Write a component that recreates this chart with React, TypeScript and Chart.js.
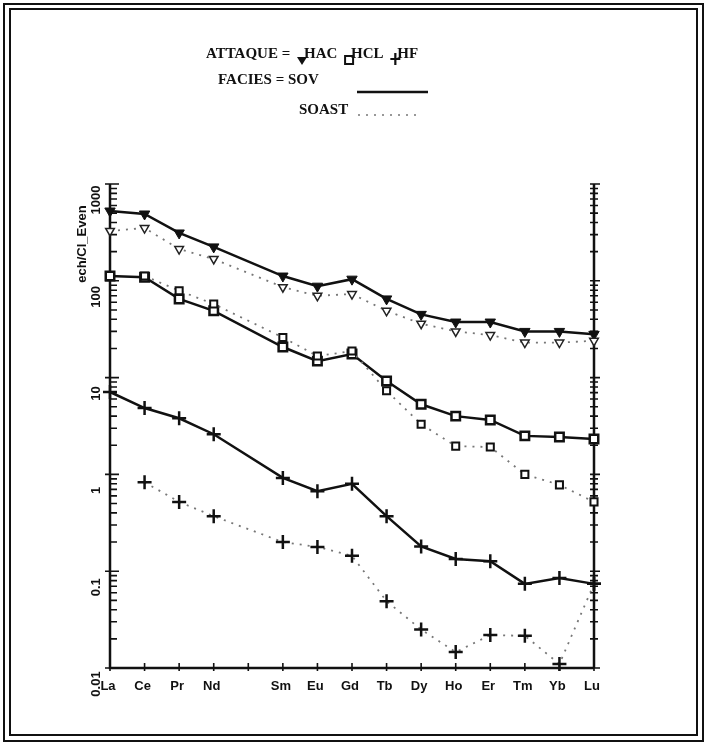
import React, { useEffect, useRef } from "react";
import { Chart, registerables } from "chart.js";

Chart.register(...registerables);

// ---------- data ----------
const elements = ["La", "Ce", "Pr", "Nd", "", "Sm", "Eu", "Gd", "Tb", "Dy", "Ho", "Er", "Tm", "Yb", "Lu"];
const atomicNumbers = [57, 58, 59, 60, 61, 62, 63, 64, 65, 66, 67, 68, 69, 70, 71];
const yTickValues = [0.01, 0.1, 1, 10, 100, 1000];
const yTickLabels = ["0.01", "0.1", "1", "10", "100", "1000"];
const yAxisTitle = "ech/Cl_Even";

// FACIES = SOV (solid)
const sovHAC = [526, 490, 312, 224, null, 112, 88, 104, 65, 45, 37.5, 37.5, 30, 30, 28];
const sovHCL = [112, 109, 65, 49, null, 20.7, 14.8, 17.5, 9.2, 5.3, 4.0, 3.65, 2.5, 2.43, 2.32];
const sovHF = [7.1, 4.85, 3.8, 2.6, null, 0.92, 0.67, 0.8, 0.37, 0.18, 0.134, 0.127, 0.074, 0.085, 0.074];
// FACIES = SOAST (dotted)
const soastHAC = [327, 351, 213, 168, null, 86, 70, 73, 49, 36, 30, 27.5, 23, 23, 24];
const soastHCL = [null, 112, 79, 57.5, null, 26, 16.7, 18.8, 7.3, 3.3, 1.96, 1.92, 1.0, 0.78, 0.52];
const soastHF = [null, 0.83, 0.52, 0.37, null, 0.2, 0.178, 0.144, 0.049, 0.025, 0.0146, 0.0219, 0.0215, 0.011, 0.074];

const legendTitle = "ATTAQUE = ";
const legendAttacks = ["HAC", "HCL", "HF"];
const legendFacies = ["FACIES = SOV", "SOAST"];

// ---------- helpers ----------
const toPoints = (vals: (number | null)[]) =>
  atomicNumbers.map((z, i) => ({ x: z, y: vals[i] }));

const SERIF = "bold 15px 'Liberation Serif', 'DejaVu Serif', serif";
const SANS = "bold 13px 'Liberation Sans', Arial, sans-serif";

function drawTri(ctx: CanvasRenderingContext2D, x: number, y: number, r: number) {
  ctx.beginPath();
  ctx.moveTo(x - r, y - r * 0.6);
  ctx.lineTo(x + r, y - r * 0.6);
  ctx.lineTo(x, y + r);
  ctx.closePath();
  ctx.fill();
}

const framePlugin = {
  id: "framePlugin",
  beforeDatasetsDraw(chart: any) {
    const ctx: CanvasRenderingContext2D = chart.ctx;
    const xs = chart.scales.x;
    const ys = chart.scales.y;
    const { left, right, top, bottom } = chart.chartArea;
    ctx.save();
    ctx.strokeStyle = "#111";
    ctx.lineWidth = 2.5;
    // axis lines
    ctx.beginPath();
    ctx.moveTo(left, top);
    ctx.lineTo(left, bottom);
    ctx.lineTo(right, bottom);
    ctx.moveTo(right, top);
    ctx.lineTo(right, bottom);
    ctx.stroke();
    // log ticks on y axes
    ctx.lineWidth = 1.6;
    for (let e = -2; e <= 3; e++) {
      for (let m = 1; m <= 9; m++) {
        const v = m * Math.pow(10, e);
        if (v > 1000.0001 || v < 0.00999) continue;
        const py = ys.getPixelForValue(v);
        const major = m === 1;
        ctx.beginPath();
        ctx.moveTo(left - (major ? 5 : 0), py);
        ctx.lineTo(left + (major ? 9 : 7), py);
        ctx.moveTo(right - 4, py);
        ctx.lineTo(right + (major ? 6 : 4), py);
        ctx.stroke();
      }
    }
    // x ticks
    atomicNumbers.forEach((z) => {
      const px = xs.getPixelForValue(z);
      ctx.beginPath();
      ctx.moveTo(px, bottom - 5);
      ctx.lineTo(px, bottom + 3);
      ctx.stroke();
    });
    ctx.restore();
  },
  afterDraw(chart: any) {
    const ctx: CanvasRenderingContext2D = chart.ctx;
    const xs = chart.scales.x;
    const ys = chart.scales.y;
    const { left, bottom } = chart.chartArea;
    ctx.save();
    ctx.fillStyle = "#111";
    ctx.strokeStyle = "#111";

    // double frame
    ctx.lineWidth = 2;
    ctx.strokeRect(4, 4, 699, 737);
    ctx.strokeRect(10, 9, 687, 726);

    // x labels
    ctx.font = SANS;
    ctx.textAlign = "center";
    ctx.textBaseline = "middle";
    atomicNumbers.forEach((z, i) => {
      if (!elements[i]) return;
      ctx.fillText(elements[i], xs.getPixelForValue(z) - 2, bottom + 18);
    });

    // y labels (rotated)
    yTickValues.forEach((v, i) => {
      const py = ys.getPixelForValue(v);
      ctx.save();
      ctx.translate(left - 14, py + 16);
      ctx.rotate(-Math.PI / 2);
      ctx.fillText(yTickLabels[i], 0, 0);
      ctx.restore();
    });
    // y title
    ctx.save();
    ctx.translate(left - 28, 244);
    ctx.rotate(-Math.PI / 2);
    ctx.fillText(yAxisTitle, 0, 0);
    ctx.restore();

    // legend block
    ctx.font = SERIF;
    ctx.textAlign = "left";
    ctx.textBaseline = "middle";
    let x = 206;
    const y1 = 54;
    ctx.fillText(legendTitle, x, y1);
    x += ctx.measureText(legendTitle).width + 4;
    // HAC
    drawTri(ctx, x + 4, y1 + 6, 5);
    ctx.fillText(legendAttacks[0], x + 6, y1);
    x += 6 + ctx.measureText(legendAttacks[0] + " ").width + 4;
    // HCL
    ctx.lineWidth = 2;
    ctx.fillStyle = "#fff";
    ctx.fillRect(x, y1 + 2, 8, 8);
    ctx.strokeRect(x, y1 + 2, 8, 8);
    ctx.fillStyle = "#111";
    ctx.fillText(legendAttacks[1], x + 6, y1);
    x += 6 + ctx.measureText(legendAttacks[1] + " ").width + 4;
    // HF
    ctx.lineWidth = 2.2;
    ctx.beginPath();
    ctx.moveTo(x + 4, y1 - 1);
    ctx.lineTo(x + 4, y1 + 11);
    ctx.moveTo(x - 1, y1 + 5);
    ctx.lineTo(x + 9, y1 + 5);
    ctx.stroke();
    ctx.fillText(legendAttacks[2], x + 6, y1);

    const y2 = 80;
    ctx.fillText(legendFacies[0], 218, y2);
    ctx.lineWidth = 2.5;
    ctx.beginPath();
    ctx.moveTo(357, y2 + 12);
    ctx.lineTo(428, y2 + 12);
    ctx.stroke();

    const y3 = 110;
    ctx.fillText(legendFacies[1], 299, y3);
    ctx.lineWidth = 1.6;
    ctx.strokeStyle = "#777";
    ctx.setLineDash([2, 6]);
    ctx.beginPath();
    ctx.moveTo(358, y3 + 5);
    ctx.lineTo(418, y3 + 5);
    ctx.stroke();
    ctx.setLineDash([]);
    ctx.restore();
  },
};

export default function App() {
  const ref = useRef<HTMLCanvasElement | null>(null);

  useEffect(() => {
    if (!ref.current) return;
    const solid = { borderColor: "#111", borderWidth: 2.5, spanGaps: true, clip: false as any };
    const dotted = { borderColor: "#777", borderWidth: 1.8, borderDash: [2, 6], spanGaps: true, clip: false as any };
    const chart = new Chart(ref.current, {
      type: "line",
      data: {
        datasets: [
          {
            label: "SOAST HAC", data: toPoints(soastHAC) as any, ...dotted,
            pointStyle: "triangle", rotation: 180, pointRadius: 5,
            pointBackgroundColor: "#fff", pointBorderColor: "#222", pointBorderWidth: 1.5,
          },
          {
            label: "SOAST HCL", data: toPoints(soastHCL) as any, ...dotted,
            pointStyle: "rect", pointRadius: 5,
            pointBackgroundColor: "#fff", pointBorderColor: "#111", pointBorderWidth: 2,
          },
          {
            label: "SOAST HF", data: toPoints(soastHF) as any, ...dotted,
            pointStyle: "cross", pointRadius: 7,
            pointBorderColor: "#111", pointBorderWidth: 2.5,
          },
          {
            label: "SOV HAC", data: toPoints(sovHAC) as any, ...solid,
            pointStyle: "triangle", rotation: 180, pointRadius: 6,
            pointBackgroundColor: "#111", pointBorderColor: "#111", pointBorderWidth: 1,
          },
          {
            label: "SOV HCL", data: toPoints(sovHCL) as any, ...solid,
            pointStyle: "rect", pointRadius: 6,
            pointBackgroundColor: "#fff", pointBorderColor: "#111", pointBorderWidth: 2.5,
          },
          {
            label: "SOV HF", data: toPoints(sovHF) as any, ...solid,
            pointStyle: "cross", pointRadius: 7,
            pointBorderColor: "#111", pointBorderWidth: 2.5,
          },
        ],
      },
      options: {
        animation: false,
        responsive: false,
        devicePixelRatio: 1,
        layout: { padding: { left: 110, right: 113, top: 184, bottom: 77 } },
        scales: {
          x: { type: "linear", min: 57, max: 71, display: false },
          y: { type: "logarithmic", min: 0.01, max: 1000, display: false },
        },
        plugins: { legend: { display: false }, tooltip: { enabled: false } },
      },
      plugins: [framePlugin],
    });
    return () => chart.destroy();
  }, []);

  return (
    <div style={{ position: "absolute", left: 0, top: 0, width: 707, height: 745, background: "#fff" }}>
      <canvas ref={ref} width={707} height={745} />
    </div>
  );
}
